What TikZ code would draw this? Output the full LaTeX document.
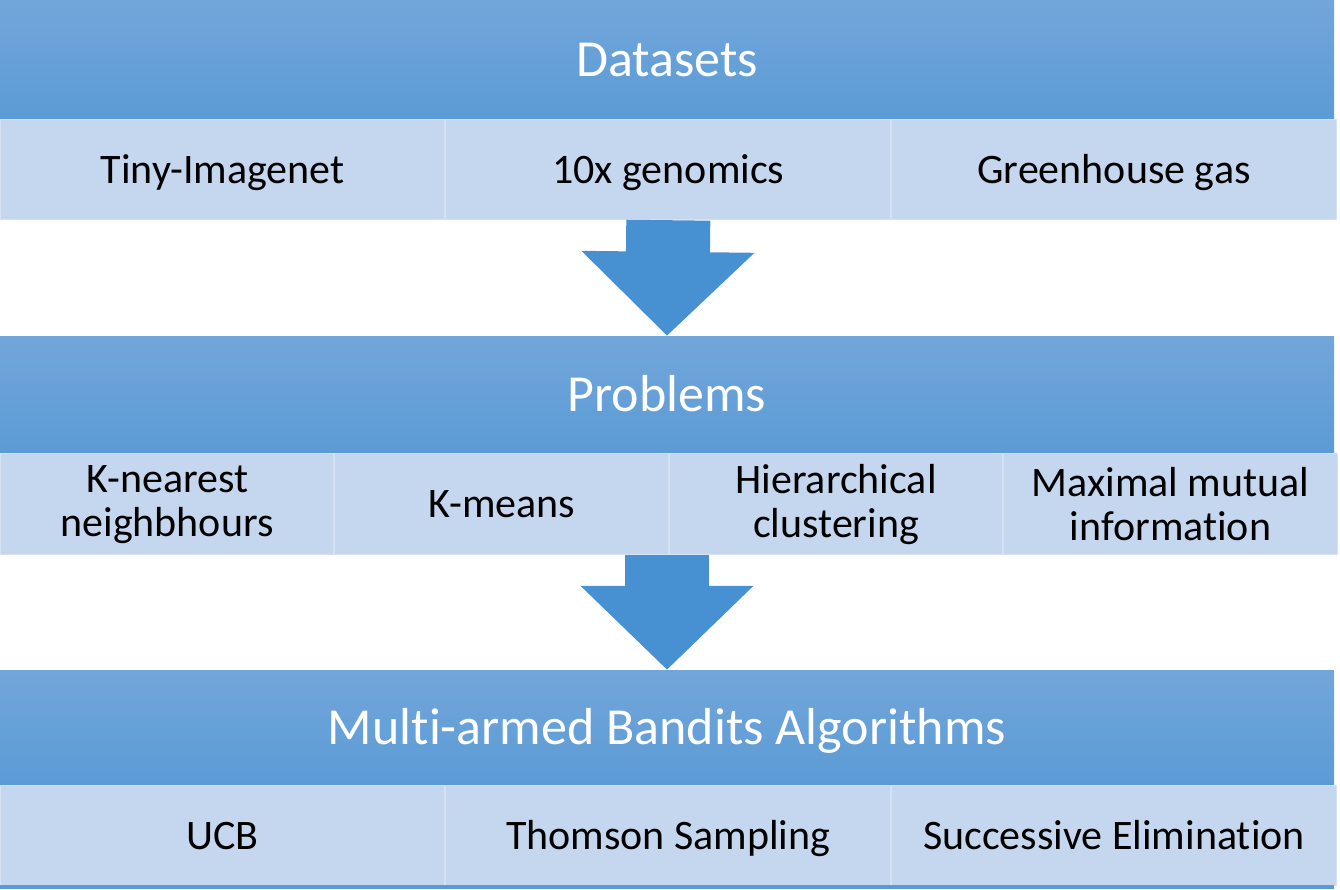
\documentclass[tikz,border=0pt]{standalone}
\usepackage{fontspec}
\setmainfont[Ligatures=NoCommon]{Carlito}
\usetikzlibrary{positioning, arrows.meta}

\definecolor{headtop}{HTML}{72A6DB}
\definecolor{headbot}{HTML}{5B9BD5}
\definecolor{cellfill}{HTML}{C5D7EE}
\definecolor{celledge}{HTML}{D5E2F3}
\definecolor{arrowblue}{HTML}{4790D2}

\begin{document}
\begin{tikzpicture}[
        x=1pt, y=-1pt,
        header/.style={top color=headtop, bottom color=headbot, draw=none, text=white, inner sep=0pt, minimum width=1334pt, text height=47pt, text depth=14pt, font=\fontsize{52}{58}\selectfont},
        cell/.style={fill=cellfill, draw=celledge, line width=1pt, inner sep=0pt, align=center, font=\fontsize{42}{44}\selectfont},
        single/.style={text height=38pt, text depth=11pt},
        cellthree/.style={cell, single, minimum width=444.67pt, minimum height=100pt},
        cellfour/.style={cell, minimum width=333.5pt, minimum height=101pt},
        flow/.style={arrowblue, line width=84pt, -{Triangle[length=84pt, width=168pt]}}
    ]
    \useasboundingbox (0,0) rectangle (1340,889);
    % Nodes
    \node[header, minimum height=119pt] (data) at (667,59.5) {Datasets};
    \node[cellthree, anchor=north west] (tiny) at (data.south west) {Tiny-Imagenet};
    \node[cellthree, right=0pt of tiny] (genom) {10x genomics};
    \node[cellthree, right=0pt of genom] (green) {Greenhouse gas};

    \node[header, minimum height=117pt] (prob) at (667,394.5) {Problems};
    \node[cellfour, anchor=north west] (knn) at (prob.south west) {K-nearest\\neighbhours};
    \node[cellfour, single, right=0pt of knn] (kmeans) {K-means};
    \node[cellfour, right=0pt of kmeans] (hier) {Hierarchical\\clustering};
    \node[cellfour, right=0pt of hier] (mmi) {Maximal mutual\\information};

    \node[header, minimum height=115pt] (mab) at (667,727.5) {Multi-armed Bandits Algorithms};
    \node[cellthree, anchor=north west] (ucb) at (mab.south west) {UCB};
    \node[cellthree, right=0pt of ucb] (thom) {Thomson Sampling};
    \node[cellthree, right=0pt of thom] (succ) {Successive Elimination};
    \fill[headbot] (0,885) rectangle (1334,889);

    \draw[flow] (genom.south) -- (prob.north);
    \draw[flow] (prob.north |- knn.south) -- (mab.north);
\end{tikzpicture}
\end{document}
